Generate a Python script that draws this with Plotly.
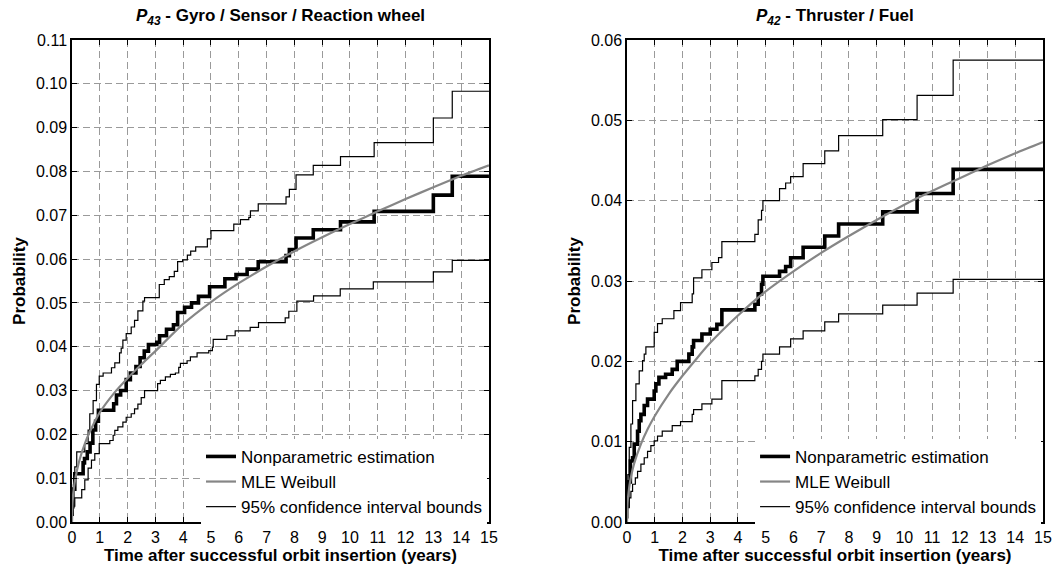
import plotly.graph_objects as go

# ---------------- P43 : Gyro / Sensor / Reaction wheel ----------------
gyro_np_t = [0, 0.03, 0.1, 0.4, 0.45, 0.55, 0.65, 0.75, 0.85, 0.95, 1.5, 1.6, 1.75, 1.95,
             2.1, 2.3, 2.45, 2.6, 2.75, 3.05, 3.15, 3.4, 3.65, 3.8, 4.05, 4.3, 4.55, 4.95,
             5.5, 5.9, 6.3, 6.7, 7.7, 7.82, 8.06, 8.68, 9.66, 10.87, 13.0, 13.68, 15]
gyro_np_p = [0.0035, 0.0075, 0.011, 0.0135, 0.0145, 0.016, 0.018, 0.021, 0.023, 0.0255,
             0.027, 0.029, 0.030, 0.0325, 0.034, 0.0355, 0.0375, 0.039, 0.0405, 0.041,
             0.0425, 0.044, 0.045, 0.0478, 0.049, 0.050, 0.0515, 0.0537, 0.0555, 0.0565,
             0.0577, 0.0594, 0.0608, 0.0622, 0.0648, 0.0667, 0.0685, 0.0709, 0.0746,
             0.0789, 0.0789]

gyro_up_t = [0, 0.05, 0.1, 0.17, 0.46, 0.58, 0.64, 0.76, 0.88, 0.98, 1.12, 1.42, 1.54,
             1.71, 1.77, 1.83, 1.95, 2.13, 2.25, 2.37, 2.55, 2.61, 3.14, 3.32, 3.5, 3.68,
             3.8, 3.98, 4.15, 4.27, 4.45, 4.87, 5.0, 5.82, 6.06, 6.36, 6.42, 6.7, 7.7,
             7.82, 8.06, 8.68, 9.66, 10.87, 13.0, 13.68, 15]
gyro_up_p = [0.005, 0.0085, 0.0126, 0.016, 0.0179, 0.021, 0.0247, 0.0277, 0.0314, 0.0333,
             0.034, 0.0352, 0.0363, 0.0386, 0.0397, 0.0415, 0.043, 0.0445, 0.046, 0.0482,
             0.0504, 0.0512, 0.0542, 0.0553, 0.056, 0.0572, 0.0594, 0.0598, 0.0609,
             0.0618, 0.0628, 0.0646, 0.0665, 0.068, 0.069, 0.0695, 0.071, 0.0726, 0.0742,
             0.0759, 0.0792, 0.0814, 0.0834, 0.0866, 0.0922, 0.0983, 0.0983]

gyro_lo_t = [0, 0.05, 0.1, 0.35, 0.46, 0.58, 0.7, 0.82, 0.98, 1.36, 1.48, 1.54, 1.65,
             1.83, 1.95, 2.13, 2.25, 2.37, 2.49, 2.61, 3.08, 3.18, 3.36, 3.54, 3.72, 3.84,
             3.9, 4.14, 4.26, 4.5, 4.92, 5.05, 5.08, 5.57, 5.87, 6.41, 6.71, 7.67, 7.8,
             8.09, 8.69, 9.65, 10.84, 13.0, 13.68, 15]
gyro_lo_p = [0.0015, 0.0036, 0.0055, 0.0074, 0.0096, 0.0123, 0.0141, 0.0156, 0.0179,
             0.0186, 0.0198, 0.0209, 0.0217, 0.0228, 0.0239, 0.0247, 0.0258, 0.0269,
             0.0284, 0.030, 0.0316, 0.0323, 0.0331, 0.0337, 0.034, 0.0353, 0.0362,
             0.0368, 0.0377, 0.0386, 0.0391, 0.0399, 0.0417, 0.0425, 0.0436, 0.0444,
             0.0455, 0.0466, 0.0481, 0.0504, 0.0516, 0.0532, 0.0548, 0.0571, 0.0597,
             0.0597]

gyro_wb_t = [0, 0.02, 0.05, 0.1, 0.25, 0.5, 0.75, 1, 1.5, 2, 2.5, 3, 4, 5, 6, 7, 8, 9,
             10, 11, 12, 13, 14, 15]
gyro_wb_p = [0.0, 0.0045, 0.0068, 0.0092, 0.0137, 0.0185, 0.022, 0.025, 0.0293, 0.0328,
             0.036, 0.039, 0.0452, 0.0502, 0.0545, 0.0583, 0.0618, 0.065, 0.068, 0.0709,
             0.0737, 0.0764, 0.079, 0.0814]

# ---------------- P42 : Thruster / Fuel ----------------
thr_np_t = [0, 0.03, 0.12, 0.2, 0.26, 0.38, 0.44, 0.5, 0.62, 0.74, 0.98, 1.04, 1.15,
            1.39, 1.63, 1.81, 2.23, 2.35, 2.4, 2.7, 3.0, 3.24, 3.42, 4.61, 4.73, 4.85,
            4.9, 5.5, 5.72, 5.9, 6.35, 7.13, 7.63, 9.22, 10.46, 11.76, 15]
thr_np_p = [0.002, 0.005, 0.0076, 0.008, 0.0097, 0.0113, 0.0126, 0.0134, 0.0145, 0.0153,
            0.0163, 0.0172, 0.018, 0.0184, 0.019, 0.020, 0.0209, 0.0218, 0.0226, 0.0234,
            0.024, 0.0246, 0.0264, 0.0271, 0.0284, 0.0296, 0.0306, 0.0312, 0.0318,
            0.0329, 0.0342, 0.0356, 0.0371, 0.0386, 0.0409, 0.0439, 0.0439]

thr_up_t = [0, 0.03, 0.08, 0.14, 0.2, 0.32, 0.44, 0.56, 0.62, 0.68, 0.98, 1.1, 1.27,
            1.69, 1.93, 2.35, 2.4, 2.7, 3.06, 3.3, 3.42, 4.61, 4.73, 4.85, 4.9, 5.5,
            5.72, 5.9, 6.35, 7.13, 7.63, 9.22, 10.46, 11.76, 15]
thr_up_p = [0.002, 0.0059, 0.0093, 0.0122, 0.0151, 0.0172, 0.0188, 0.0201, 0.0209,
            0.0218, 0.0236, 0.0247, 0.0253, 0.0263, 0.0273, 0.0284, 0.0304, 0.0314,
            0.0323, 0.0329, 0.0349, 0.0358, 0.0376, 0.0388, 0.040, 0.0415, 0.0422,
            0.043, 0.0446, 0.0462, 0.0481, 0.0501, 0.0531, 0.0575, 0.0575]

thr_lo_t = [0, 0.03, 0.08, 0.14, 0.2, 0.3, 0.38, 0.5, 0.62, 0.74, 0.86, 0.98, 1.1, 1.27,
            1.63, 1.93, 2.35, 2.4, 2.7, 3.06, 3.42, 4.61, 4.73, 4.85, 4.9, 5.5, 5.9,
            6.35, 7.13, 7.63, 9.22, 10.46, 11.76, 15]
thr_lo_p = [0.0005, 0.0018, 0.003, 0.0038, 0.0047, 0.0055, 0.0063, 0.0072, 0.008,
            0.0088, 0.0095, 0.0101, 0.0107, 0.0113, 0.012, 0.0125, 0.0134, 0.014,
            0.0147, 0.0153, 0.0176, 0.0182, 0.019, 0.020, 0.0209, 0.0218, 0.0228,
            0.0238, 0.0249, 0.0259, 0.027, 0.0285, 0.0302, 0.0302]

thr_wb_t = [0, 0.02, 0.05, 0.1, 0.25, 0.5, 0.75, 1, 1.5, 2, 2.5, 3, 4, 5, 6, 7, 8, 9,
            10, 11, 12, 13, 14, 15]
thr_wb_p = [0.0, 0.0024, 0.0035, 0.0048, 0.0072, 0.0097, 0.0116, 0.0132, 0.0159, 0.0182,
            0.0203, 0.0223, 0.0257, 0.0287, 0.0312, 0.0335, 0.0356, 0.0376, 0.0395,
            0.0412, 0.0428, 0.0444, 0.0459, 0.0473]

years = list(range(0, 16))
gyro_yticks = [i / 100 for i in range(0, 12)]
thr_yticks = [i / 100 for i in range(0, 7)]

FONT = "Arial, 'Liberation Sans', sans-serif"
NAMES = ["Nonparametric estimation", "MLE Weibull", "95% confidence interval bounds"]

fig = go.Figure()


def add_panel(xa, ya, leg, np_t, np_p, wb_t, wb_p, up_t, up_p, lo_t, lo_p):
    common = dict(xaxis=xa, yaxis=ya, legend=leg, mode="lines", hoverinfo="skip")
    ci_line = dict(color="black", width=1.2, shape="hv")
    fig.add_trace(go.Scatter(x=up_t, y=up_p, name=NAMES[2], showlegend=False,
                             line=ci_line, **common))
    fig.add_trace(go.Scatter(x=lo_t, y=lo_p, name=NAMES[2], showlegend=True,
                             legendrank=3, line=ci_line, **common))
    fig.add_trace(go.Scatter(x=np_t, y=np_p, name=NAMES[0], legendrank=1,
                             line=dict(color="black", width=3.6, shape="hv"), **common))
    fig.add_trace(go.Scatter(x=wb_t, y=wb_p, name=NAMES[1], legendrank=2,
                             line=dict(color="#868686", width=2.2, shape="spline",
                                       smoothing=0.6),
                             **common))


add_panel("x", "y", "legend", gyro_np_t, gyro_np_p, gyro_wb_t, gyro_wb_p,
          gyro_up_t, gyro_up_p, gyro_lo_t, gyro_lo_p)
add_panel("x2", "y2", "legend2", thr_np_t, thr_np_p, thr_wb_t, thr_wb_p,
          thr_up_t, thr_up_p, thr_lo_t, thr_lo_p)

axis_common = dict(
    showline=True, linecolor="black", linewidth=1.5, mirror="ticks",
    ticks="inside", ticklen=5, tickcolor="black", tickwidth=1,
    showgrid=True, gridcolor="#9a9a9a", gridwidth=1, griddash="7px,4px",
    zeroline=False, tickfont=dict(family=FONT, size=16, color="black"),
)

xdom1 = [0.0, 0.4294]
xdom2 = [0.5716, 1.0]

xtitle = dict(text="<b>Time after successful orbit insertion (years)</b>",
              font=dict(family=FONT, size=17, color="black"), standoff=1)
ytitle = dict(text="<b>Probability</b>", font=dict(family=FONT, size=17, color="black"),
              standoff=6)

legend_common = dict(xanchor="right", yanchor="bottom", bgcolor="white", borderwidth=0,
                     font=dict(family=FONT, size=17, color="black"), tracegroupgap=0)

fig.update_layout(
    width=1064, height=571,
    margin=dict(l=72, r=14, t=40, b=48),
    paper_bgcolor="white", plot_bgcolor="white",
    font=dict(family=FONT, size=16, color="black"),
    xaxis=dict(domain=xdom1, range=[0, 15], tickvals=years, anchor="y",
               title=xtitle, **axis_common),
    yaxis=dict(domain=[0, 1], range=[0, 0.11], tickvals=gyro_yticks, tickformat=".2f",
               anchor="x", title=ytitle, **axis_common),
    xaxis2=dict(domain=xdom2, range=[0, 15], tickvals=years, anchor="y2",
                title=xtitle, **axis_common),
    yaxis2=dict(domain=[0, 1], range=[0, 0.06], tickvals=thr_yticks, tickformat=".2f",
                anchor="x2", title=ytitle, **axis_common),
    legend=dict(x=xdom1[1] - 0.002, y=-0.006, **legend_common),
    legend2=dict(x=xdom2[1] - 0.002, y=-0.006, **legend_common),
    showlegend=True,
)

title_font = dict(family=FONT, size=17, color="black")
fig.add_annotation(text="<b><i>P</i><sub><i>43</i></sub> - Gyro / Sensor / Reaction wheel</b>",
                   xref="paper", yref="paper", x=sum(xdom1) / 2, y=1.048,
                   xanchor="center", yanchor="middle", showarrow=False, font=title_font)
fig.add_annotation(text="<b><i>P</i><sub><i>42</i></sub> - Thruster / Fuel</b>",
                   xref="paper", yref="paper", x=sum(xdom2) / 2, y=1.048,
                   xanchor="center", yanchor="middle", showarrow=False, font=title_font)

fig.write_html("out.html")
